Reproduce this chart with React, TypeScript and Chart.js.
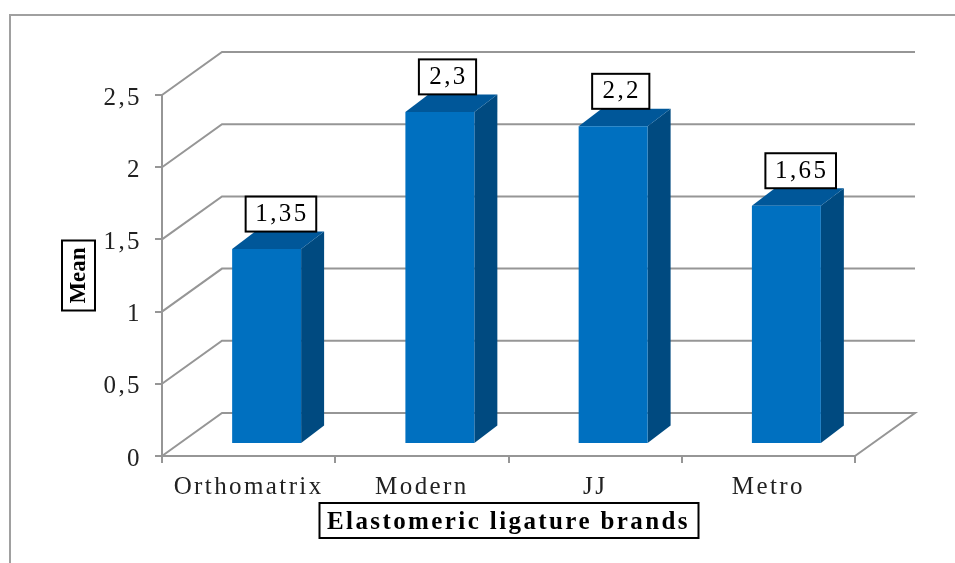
import React, { useEffect, useRef } from "react";
import { Chart, registerables } from "chart.js";

Chart.register(...registerables);

const brands = ["Orthomatrix", "Modern", "JJ", "Metro"];
const means = [1.35, 2.3, 2.2, 1.65];
const xTitle = "Elastomeric ligature brands";
const yTitle = "Mean";

const GRID = "#969696";
const FRONT = "#0070C0";
const SIDE = "#004A80";
const TOP = "#005799";
const FONT = "'Liberation Serif', serif";
const SIZE = 25;
const TRACKING = "2.4px";

// Perspective offsets of the box: floor depth, bar inset and bar depth.
const WALL = { x: 60, y: -43 };
const INSET = { x: 18, y: -12 };
const DEPTH = { x: 23, y: -17.5 };

const comma = (v: number) => String(v).replace(".", ",");

function boxedText(ctx: CanvasRenderingContext2D, x: number, y: number, w: number, h: number) {
  ctx.fillStyle = "#ffffff";
  ctx.strokeStyle = "#000000";
  ctx.lineWidth = 2;
  ctx.fillRect(x, y, w, h);
  ctx.strokeRect(x, y, w, h);
}

const pseudo3d = {
  id: "pseudo3d",
  beforeUpdate(chart: any) {
    // Wide tracking gives every label the even, typewriter-like rhythm.
    chart.ctx.letterSpacing = TRACKING;
  },
  afterLayout(chart: any) {
    // The y tick labels sit slightly below their tick marks.
    chart.scales.y.getLabelItems(chart.chartArea).forEach((item: any) => {
      item.options.translation[1] += 3;
    });
  },
  beforeDraw(chart: any) {
    const { ctx, chartArea: a, scales } = chart;
    ctx.letterSpacing = TRACKING;
    ctx.save();
    ctx.fillStyle = "#ffffff";
    ctx.fillRect(0, 0, chart.width, chart.height);

    // Outer frame, open past the right and bottom of the canvas.
    ctx.strokeStyle = "#a0a0a0";
    ctx.lineWidth = 2;
    ctx.beginPath();
    ctx.moveTo(10, chart.height);
    ctx.lineTo(10, 15);
    ctx.lineTo(chart.width, 15);
    ctx.stroke();

    // Side wall and back wall rules, one per y tick.
    ctx.strokeStyle = GRID;
    ctx.lineWidth = 2;
    ctx.lineJoin = "miter";
    scales.y.ticks.forEach((t: any) => {
      const y = scales.y.getPixelForValue(t.value);
      ctx.beginPath();
      ctx.moveTo(a.left, y);
      ctx.lineTo(a.left + WALL.x, y + WALL.y);
      ctx.lineTo(a.right + WALL.x, y + WALL.y);
      if (t.value === 0) ctx.lineTo(a.right, y);
      ctx.stroke();
    });

    // Frame behind the x title, which the scale draws itself.
    boxedText(ctx, 319.5, 503, 379, 35);

    // The y title is tighter than the other labels, so it is set by hand.
    boxedText(ctx, 62, 240.5, 33, 70);
    ctx.save();
    ctx.translate(79, (a.top + a.bottom) / 2);
    ctx.rotate(-Math.PI / 2);
    ctx.letterSpacing = "0px";
    ctx.font = `bold 23px ${FONT}`;
    ctx.textAlign = "center";
    ctx.textBaseline = "middle";
    ctx.fillStyle = "#000000";
    ctx.fillText(yTitle, 0, 0);
    ctx.restore();
    ctx.restore();
  },
  beforeDatasetDraw(chart: any) {
    const { ctx } = chart;
    ctx.save();
    ctx.translate(INSET.x, INSET.y);
    chart.getDatasetMeta(0).data.forEach((bar: any) => {
      const l = bar.x - bar.width / 2;
      const r = bar.x + bar.width / 2;
      ctx.fillStyle = SIDE;
      ctx.beginPath();
      ctx.moveTo(r, bar.y);
      ctx.lineTo(r + DEPTH.x, bar.y + DEPTH.y);
      ctx.lineTo(r + DEPTH.x, bar.base + DEPTH.y);
      ctx.lineTo(r, bar.base);
      ctx.closePath();
      ctx.fill();
      ctx.fillStyle = TOP;
      ctx.beginPath();
      ctx.moveTo(l, bar.y);
      ctx.lineTo(l + DEPTH.x, bar.y + DEPTH.y);
      ctx.lineTo(r + DEPTH.x, bar.y + DEPTH.y);
      ctx.lineTo(r, bar.y);
      ctx.closePath();
      ctx.fill();
    });
  },
  afterDatasetDraw(chart: any) {
    chart.ctx.restore();
  },
  afterDatasetsDraw(chart: any) {
    const { ctx } = chart;
    ctx.save();
    ctx.font = `${SIZE}px ${FONT}`;
    ctx.textAlign = "center";
    ctx.textBaseline = "middle";
    chart.getDatasetMeta(0).data.forEach((bar: any, i: number) => {
      const label = comma(means[i]);
      const w = label.length * 13.4 + 17;
      const left = bar.x - bar.width / 2 + INSET.x + 13.5;
      const top = bar.y + INSET.y + DEPTH.y - 35;
      boxedText(ctx, left, top, w, 35);
      ctx.fillStyle = "#000000";
      ctx.fillText(label, left + w / 2 + 1, top + 18);
    });
    ctx.restore();
  },
};

export default function App() {
  const ref = useRef<HTMLCanvasElement>(null);

  useEffect(() => {
    const chart = new Chart(ref.current!, {
      type: "bar",
      data: {
        labels: brands,
        datasets: [
          {
            data: means,
            backgroundColor: FRONT,
            categoryPercentage: 1,
            barPercentage: 0.398,
            clip: false,
          } as any,
        ],
      },
      options: {
        animation: false,
        responsive: false,
        layout: { padding: { top: 95, right: 100, left: 0, bottom: 0 } },
        plugins: { legend: { display: false }, tooltip: { enabled: false } },
        scales: {
          x: {
            afterFit: (s: any) => {
              s.height = 107;
            },
            grid: { drawOnChartArea: false, color: GRID, lineWidth: 2, tickLength: 7 },
            border: { color: GRID, width: 2 },
            ticks: {
              color: "#222222",
              font: { family: FONT, size: SIZE },
              padding: 9,
              maxRotation: 0,
              autoSkip: false,
            },
            title: {
              display: true,
              text: xTitle,
              color: "#000000",
              font: { family: FONT, size: SIZE, weight: "bold" },
              padding: { top: 0, bottom: 25 },
            },
          },
          y: {
            min: 0,
            max: 2.5,
            afterFit: (s: any) => {
              s.width = 162;
            },
            grid: { drawOnChartArea: false, color: GRID, lineWidth: 2, tickLength: 7 },
            border: { color: GRID, width: 2 },
            ticks: {
              stepSize: 0.5,
              color: "#222222",
              font: { family: FONT, size: SIZE },
              padding: 13,
              callback: (v: any) => comma(Number(v)),
            },
          },
        },
      },
      plugins: [pseudo3d],
    });
    return () => chart.destroy();
  }, []);

  return (
    <div style={{ position: "absolute", left: 0, top: 0 }}>
      <canvas ref={ref} width={955} height={563} style={{ display: "block" }} />
    </div>
  );
}
